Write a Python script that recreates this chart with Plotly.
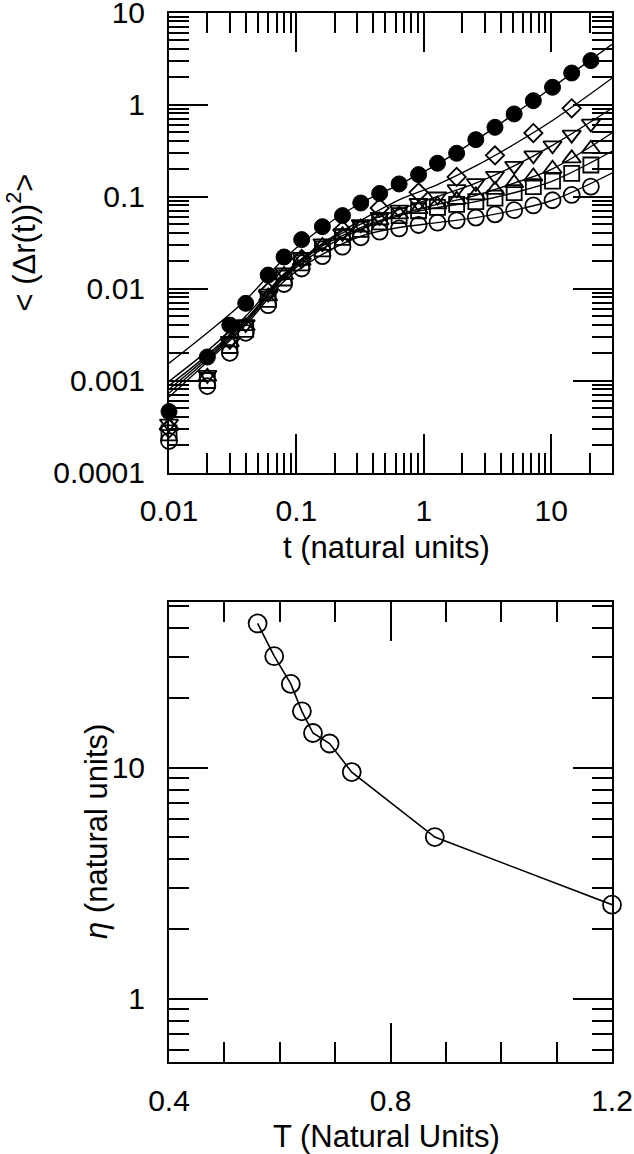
import math
import plotly.graph_objects as go

# ---------------- top panel data: mean square displacement ----------------
t = [0.01, 0.02, 0.03, 0.04, 0.06, 0.08, 0.11, 0.16, 0.23, 0.32, 0.45, 0.64,
     0.91, 1.28, 1.81, 2.56, 3.62, 5.12, 7.24, 10.24, 14.48, 20.48]
msd_filled = [0.00046, 0.0018, 0.0040, 0.0069, 0.014, 0.022, 0.034, 0.047, 0.062,
              0.085, 0.108, 0.137, 0.173, 0.23, 0.295, 0.415, 0.565, 0.79, 1.10,
              1.54, 2.2, 3.0]
msd_down = [0.00034, 0.00115, 0.0027, 0.0041, 0.0088, 0.015, 0.022, 0.031, 0.040,
            0.050, 0.060, 0.072, 0.085, 0.100, 0.120, 0.140, 0.168, 0.215, 0.28,
            0.36, 0.47, 0.62]
msd_up = [0.00032, 0.0011, 0.0026, 0.0039, 0.0082, 0.014, 0.020, 0.029, 0.038,
          0.046, 0.055, 0.064, 0.073, 0.082, 0.092, 0.103, 0.118, 0.14, 0.165,
          0.20, 0.26, 0.33]
msd_square = [0.00027, 0.0010, 0.0024, 0.0036, 0.0076, 0.013, 0.019, 0.027, 0.036,
              0.044, 0.053, 0.062, 0.070, 0.076, 0.082, 0.088, 0.096, 0.11, 0.128,
              0.147, 0.178, 0.22]
msd_circle = [0.00022, 0.00087, 0.0020, 0.0033, 0.0066, 0.0112, 0.0165, 0.0225,
              0.0285, 0.036, 0.0415, 0.045, 0.049, 0.052, 0.055, 0.059, 0.064,
              0.071, 0.080, 0.091, 0.104, 0.128]
t_diamond = [0.01, 0.03, 0.06, 0.11, 0.23, 0.45, 0.91, 1.81, 3.62, 7.24, 14.48]
msd_diamond = [0.00030, 0.0028, 0.0092, 0.021, 0.043, 0.075, 0.111, 0.163, 0.28,
               0.49, 0.91]

# fitted curves
t_fit = [0.01, 0.02, 0.04, 0.08, 0.16, 0.32, 0.64, 1.28, 2.56, 5.12, 10.24, 30]
fit_filled = [0.00154, 0.0033, 0.0075, 0.021, 0.046, 0.085, 0.135, 0.225, 0.41,
              0.79, 1.54, 4.5]
fit_diamond = [0.00098, 0.0021, 0.0050, 0.0145, 0.031, 0.055, 0.092, 0.135, 0.215,
               0.37, 0.67, 1.93]
fit_down = [0.00088, 0.0019, 0.0046, 0.014, 0.030, 0.050, 0.072, 0.100, 0.140,
            0.215, 0.36, 0.91]
fit_up = [0.00080, 0.0018, 0.0044, 0.0135, 0.029, 0.046, 0.064, 0.082, 0.103,
          0.14, 0.20, 0.49]
fit_square = [0.00073, 0.0017, 0.0042, 0.013, 0.027, 0.044, 0.062, 0.076, 0.088,
              0.11, 0.147, 0.31]
fit_circle = [0.00066, 0.0016, 0.0040, 0.012, 0.0235, 0.037, 0.046, 0.052, 0.059,
              0.071, 0.091, 0.18]

# ---------------- bottom panel data: viscosity ----------------
T_vals = [0.56, 0.59, 0.62, 0.64, 0.66, 0.69, 0.73, 0.88, 1.2]
eta_vals = [42, 30.3, 23, 17.5, 14.1, 12.7, 9.55, 5.0, 2.55]

# ---------------- tick labels ----------------
x1_major = [0.01, 0.1, 1, 10]
x1_labels = ["0.01", "0.1", "1", "10"]
y1_major = [0.0001, 0.001, 0.01, 0.1, 1, 10]
y1_labels = ["0.0001", "0.001", "0.01", "0.1", "1", "10"]
x2_major = [0.4, 0.8, 1.2]
x2_labels = ["0.4", "0.8", "1.2"]
y2_major = [1, 10]
y2_labels = ["1", "10"]

digits = [2, 3, 4, 5, 6, 7, 8, 9]
x1_minor = [d * 10 ** e for e in (-2, -1, 0) for d in digits] + [20]
y1_minor = [d * 10 ** e for e in (-4, -3, -2, -1, 0) for d in digits]
y2_minor = [0.6, 0.7, 0.8, 0.9] + [d for d in digits] + [20, 30, 40, 50]

W, H = 634, 1154
FONT = "Liberation Sans, Arial, sans-serif"
TICKFS = 30
TITLEFS = 31

fig = go.Figure()

line_style = dict(color="black", width=1.4, shape="spline")
for fy in [fit_filled, fit_diamond, fit_down, fit_up, fit_square, fit_circle]:
    fig.add_trace(go.Scatter(x=t_fit, y=fy, mode="lines", line=line_style,
                             xaxis="x", yaxis="y", showlegend=False,
                             hoverinfo="skip"))

mk_line = dict(color="black", width=1.8)
series = [
    (t, msd_circle, "circle-open", 16),
    (t, msd_square, "square-open", 15),
    (t, msd_up, "triangle-up-open", 16),
    (t, msd_down, "triangle-down-open", 16),
    (t_diamond, msd_diamond, "diamond-open", 14),
]
for xs, ys, sym, sz in series:
    fig.add_trace(go.Scatter(x=xs, y=ys, mode="markers", xaxis="x", yaxis="y",
                             marker=dict(symbol=sym, size=sz, color="black",
                                         line=mk_line),
                             cliponaxis=False, showlegend=False))
fig.add_trace(go.Scatter(x=t, y=msd_filled, mode="markers", xaxis="x", yaxis="y",
                         marker=dict(symbol="circle", size=16, color="black",
                                     line=dict(color="black", width=1)),
                         cliponaxis=False, showlegend=False))

fig.add_trace(go.Scatter(x=T_vals, y=eta_vals, mode="lines+markers",
                         xaxis="x2", yaxis="y2",
                         line=dict(color="black", width=1.6),
                         marker=dict(symbol="circle-open", size=18, color="black",
                                     line=dict(color="black", width=1.8)),
                         cliponaxis=False, showlegend=False))

x_dom = [169 / W, 612 / W]
top_dom = [1 - 472.5 / H, 1 - 12.5 / H]
bot_dom = [1 - 1062 / H, 1 - 602 / H]

common = dict(ticks="inside", ticklen=39, tickwidth=2, tickcolor="black",
              showline=True, linecolor="black", linewidth=2, mirror="ticks",
              showgrid=False, zeroline=False, ticklabeloverflow="allow",
              tickfont=dict(family=FONT, size=TICKFS, color="black"))
minor_common = dict(ticks="inside", ticklen=20, tickwidth=2, tickcolor="black",
                    showgrid=False)

fig.update_layout(
    width=W, height=H,
    margin=dict(l=0, r=0, t=0, b=0, autoexpand=False),
    paper_bgcolor="white", plot_bgcolor="white",
    xaxis=dict(type="log", range=[-2, math.log10(30)], domain=x_dom, anchor="y",
               tickmode="array", tickvals=x1_major, ticktext=x1_labels,
               minor=dict(tickmode="array", tickvals=x1_minor, **minor_common),
               ticklabelstandoff=10, **common),
    yaxis=dict(type="log", range=[-4, 1.0001], domain=top_dom, anchor="x",
               tickmode="array", tickvals=y1_major, ticktext=y1_labels,
               minor=dict(tickmode="array", tickvals=y1_minor, **minor_common),
               ticklabelstandoff=16, **common),
    xaxis2=dict(type="linear", range=[0.4, 1.2], domain=x_dom, anchor="y2",
                tickmode="array", tickvals=x2_major, ticktext=x2_labels,
                minor=dict(tick0=0.4, dtick=0.1, **minor_common),
                ticklabelstandoff=11, **common),
    yaxis2=dict(type="log", range=[math.log10(0.532), math.log10(52)],
                domain=bot_dom, anchor="x2",
                tickmode="array", tickvals=y2_major, ticktext=y2_labels,
                minor=dict(tickmode="array", tickvals=y2_minor, **minor_common),
                ticklabelstandoff=16, **common),
)

title_font = dict(family=FONT, size=TITLEFS, color="black")
fig.add_annotation(text="&lt; (Δr(t))<sup>2</sup>&gt;", xref="paper", yref="paper",
                   x=21 / W, y=1 - 242.5 / H, textangle=-90, showarrow=False,
                   xanchor="center", yanchor="middle", font=title_font)
fig.add_annotation(text="t (natural units)", xref="paper", yref="paper",
                   x=386 / W, y=1 - 547 / H, showarrow=False,
                   xanchor="center", yanchor="middle", font=title_font)
fig.add_annotation(text="<i>η</i> (natural units)", xref="paper", yref="paper",
                   x=96 / W, y=1 - 832 / H, textangle=-90, showarrow=False,
                   xanchor="center", yanchor="middle", font=title_font)
fig.add_annotation(text="T (Natural Units)", xref="paper", yref="paper",
                   x=386 / W, y=1 - 1136 / H, showarrow=False,
                   xanchor="center", yanchor="middle", font=title_font)

fig.write_html("out.html",
               config={"displayModeBar": False},
               post_script="document.body.style.margin='0';"
                           "document.body.style.overflow='hidden';")
